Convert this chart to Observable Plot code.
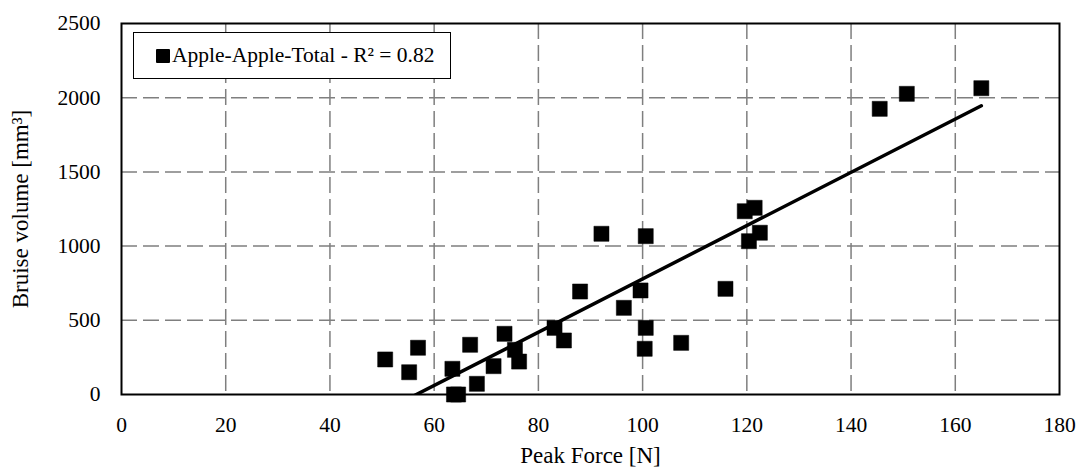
<!DOCTYPE html>
<html>
<head>
<meta charset="utf-8">
<script src="https://cdn.jsdelivr.net/npm/d3@7"></script>
<script src="https://cdn.jsdelivr.net/npm/@observablehq/plot@0.6"></script>
<style>
  html, body { margin: 0; padding: 0; background: #fff; }
  #wrap { position: relative; width: 1083px; height: 471px; font-family: "Liberation Serif", "Times New Roman", serif; }
  #legend {
    position: absolute; left: 133px; top: 32px; width: 318px; height: 47px;
    border: 1.5px solid #000; box-sizing: border-box; background: #fff;
    display: flex; align-items: center; font-size: 21.5px; color: #000;
  }
  #legend .swatch { width: 14px; height: 14px; background: #000; margin-left: 22px; margin-right: 2px; border-radius: 1px; }
</style>
</head>
<body>
<div id="wrap"><div id="legend"></div></div>
<script>
// Peak force [N] and bruise volume [mm³] for each apple-on-apple impact
const peakForce = [
  50.6, 55.2, 56.9, 63.5, 63.8, 64.6, 66.9, 68.2, 71.4, 73.5,
  75.5, 76.3, 83.1, 84.9, 88.0, 92.1, 96.4, 99.6, 100.4, 100.6,
  100.6, 107.4, 115.9, 119.6, 120.4, 121.5, 122.5, 145.5, 150.7, 165.0
];
const bruiseVolume = [
  236, 150, 315, 173, 0, 0, 335, 72, 191, 409,
  301, 222, 449, 364, 694, 1083, 584, 701, 308, 449,
  1067, 348, 712, 1235, 1033, 1258, 1090, 1925, 2026, 2064
];
const seriesName = "Apple-Apple-Total";
const rSquared = 0.82;

const xTicks = [0, 20, 40, 60, 80, 100, 120, 140, 160, 180];
const yTicks = [0, 500, 1000, 1500, 2000, 2500];
const xGrid = [20, 40, 60, 80, 100, 120, 140, 160];
const yGrid = [500, 1000, 1500, 2000];

const data = peakForce.map((f, i) => ({force: f, volume: bruiseVolume[i]}));

const gridStyle = {stroke: "#7f7f7f", strokeWidth: 1.5, strokeDasharray: "16,6"};
const plainNumber = (d) => String(d);

const chart = Plot.plot({
  width: 1083,
  height: 471,
  marginLeft: 121,
  marginRight: 24,
  marginTop: 23,
  marginBottom: 77,
  style: {fontFamily: "Liberation Serif, Times New Roman, serif", fontSize: "21px", color: "#000", background: "#fff"},
  x: {domain: [0, 180]},
  y: {domain: [0, 2500]},
  marks: [
    Plot.ruleX(xGrid, gridStyle),
    Plot.ruleY(yGrid, gridStyle),
    Plot.dot(data, {x: "force", y: "volume", symbol: "square", r: 8.5, fill: "#000", stroke: "#000", strokeWidth: 0.5}),
    Plot.linearRegressionY(data, {x: "force", y: "volume", ci: 0, stroke: "#000", strokeWidth: 3.5, clip: true}),
    Plot.axisX(xTicks, {tickSize: 0, tickPadding: 22, tickFormat: plainNumber, fontSize: 21.5, label: null}),
    Plot.axisX({ticks: [], tickSize: 0, label: "Peak Force [N]", labelAnchor: "center", labelArrow: "none", labelOffset: 68, fontSize: 23}),
    Plot.axisY(yTicks, {tickSize: 0, tickPadding: 21, tickFormat: plainNumber, fontSize: 21.5, label: null}),
    Plot.axisY({ticks: [], tickSize: 0, label: "Bruise volume [mm³]", labelAnchor: "center", labelArrow: "none", labelOffset: 110, fontSize: 23}),
    Plot.frame({stroke: "#000", strokeWidth: 2})
  ]
});

const wrap = document.getElementById("wrap");
wrap.insertBefore(chart, wrap.firstChild);

const legend = document.getElementById("legend");
const sw = document.createElement("span");
sw.className = "swatch";
legend.appendChild(sw);
const lt = document.createElement("span");
lt.textContent = `${seriesName} - R² = ${rSquared.toFixed(2)}`;
legend.appendChild(lt);
</script>
</body>
</html>
